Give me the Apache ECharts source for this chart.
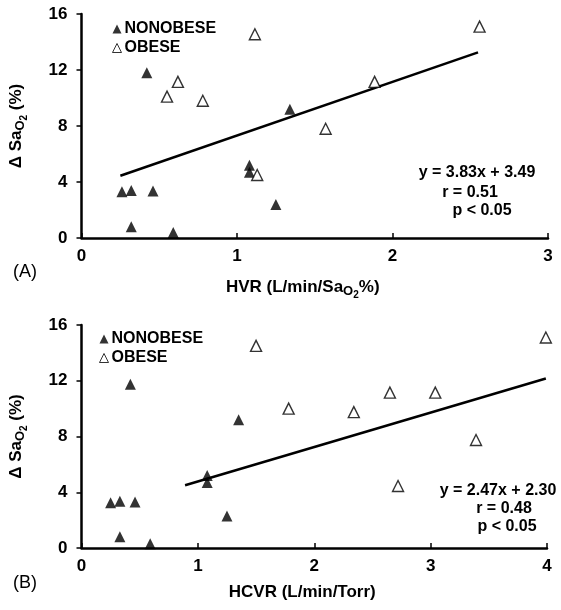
<!DOCTYPE html>
<html>
<head>
<meta charset="utf-8">
<script src="https://cdn.jsdelivr.net/npm/echarts@6/dist/echarts.min.js"></script>
<style>
html,body{margin:0;padding:0;background:#fff;}
#chart{width:561px;height:610px;}
</style>
</head>
<body>
<div id="chart"></div>
<script>
// Panel A: HVR (L/min/SaO2%) vs delta SaO2 (%)
const hvrNonobese = [0.26, 0.32, 0.32, 0.42, 0.46, 0.59, 1.08, 1.08, 1.25, 1.34];
const saNonobeseA = [3.3, 3.4, 0.8, 11.8, 3.35, 0.4, 5.2, 4.7, 2.4, 9.2];
const hvrObese = [0.55, 0.62, 0.78, 1.115, 1.13, 1.57, 1.885, 2.56];
const saObeseA = [10.1, 11.15, 9.8, 14.55, 4.5, 7.8, 11.15, 15.1];
const regLineAx = [0.25, 2.55];
const regLineAy = [4.45, 13.26];
const eqA = ['y = 3.83x + 3.49', 'r = 0.51', 'p < 0.05'];

// Panel B: HCVR (L/min/Torr) vs delta SaO2 (%)
const hcvrNonobese = [0.25, 0.33, 0.33, 0.42, 0.46, 0.59, 1.08, 1.08, 1.25, 1.35];
const saNonobeseB = [3.25, 3.35, 0.8, 11.75, 3.3, 0.3, 5.2, 4.7, 2.3, 9.2];
const hcvrObese = [1.50, 1.78, 2.34, 2.65, 2.72, 3.04, 3.39, 3.99];
const saObeseB = [14.5, 10.0, 9.75, 11.15, 4.45, 11.15, 7.75, 15.1];
const regLineBx = [0.89, 3.99];
const regLineBy = [4.5, 12.16];
const eqB = ['y = 2.47x + 2.30', 'r = 0.48', 'p < 0.05'];

const xTicksA = [0, 1, 2, 3];
const xTicksB = [0, 1, 2, 3, 4];
const yTicks = [0, 4, 8, 12, 16];
const legendNames = ['NONOBESE', 'OBESE'];

const FONT = '"Liberation Sans", Arial, Helvetica, sans-serif';
const zip = (xs, ys) => xs.map((x, i) => [x, ys[i]]);

const richSub = {
  b: { fontSize: 17, fontWeight: 'bold', fontFamily: FONT, color: '#000' },
  o: { fontSize: 13, fontWeight: 'bold', fontFamily: FONT, color: '#000', padding: [8, 0, 0, 0] },
  t: { fontSize: 10, fontWeight: 'bold', fontFamily: FONT, color: '#000', padding: [16, 0, 0, 0] }
};

function xAxis(idx, ticks, name, padRight) {
  return {
    gridIndex: idx, type: 'value', min: ticks[0], max: ticks[ticks.length - 1], interval: 1,
    axisLine: { lineStyle: { color: '#000', width: 2.5 } },
    axisTick: { inside: true, length: 5, lineStyle: { color: '#000', width: 1.5 } },
    axisLabel: { fontSize: 17, fontWeight: 'bold', fontFamily: FONT, color: '#000', margin: 10 },
    splitLine: { show: false },
    name: name, nameLocation: 'middle', nameGap: 36,
    nameTextStyle: { rich: richSub, padding: [0, padRight, 0, 0] }
  };
}
function yAxis(idx) {
  return {
    gridIndex: idx, type: 'value', min: yTicks[0], max: yTicks[yTicks.length - 1], interval: 4,
    axisLine: { lineStyle: { color: '#000', width: 2.5 } },
    axisTick: { inside: false, length: 5, lineStyle: { color: '#000', width: 1.5 } },
    axisLabel: { fontSize: 17, fontWeight: 'bold', fontFamily: FONT, color: '#000', margin: 14 },
    splitLine: { show: false },
    name: '{b|Δ Sa}{o|O}{t|2}{b| (%)}', nameLocation: 'middle', nameGap: 52,
    nameTextStyle: { rich: richSub }
  };
}

const filledStyle = { color: '#000', borderColor: '#000', borderWidth: 0 };
const openStyle = { color: '#fff', borderColor: '#000', borderWidth: 1.4 };

function scatter(name, xi, data, style) {
  return {
    name: name, type: 'scatter', xAxisIndex: xi, yAxisIndex: xi, data: data,
    symbol: 'triangle', symbolSize: 11, itemStyle: style, z: 3, silent: true
  };
}
function reg(xi, xs, ys) {
  return {
    type: 'line', xAxisIndex: xi, yAxisIndex: xi, data: zip(xs, ys),
    symbol: 'none', lineStyle: { color: '#000', width: 2.5 }, z: 2, silent: true
  };
}
function legend(left, top) {
  return {
    data: [
      { name: legendNames[0], icon: 'triangle', itemStyle: { color: '#000', borderWidth: 0 } },
      { name: legendNames[1], icon: 'triangle', itemStyle: { color: '#fff', borderColor: '#000', borderWidth: 1 } }
    ],
    orient: 'vertical', left: left, top: top, itemWidth: 9, itemHeight: 9, itemGap: 3, padding: 0,
    selectedMode: false,
    textStyle: { fontSize: 16, fontWeight: 'bold', fontFamily: FONT, color: '#000', padding: [0, 0, 0, -2] }
  };
}
function eqText(lines, cx, cys) {
  return lines.map((t, i) => ({
    type: 'text', x: cx[i], y: cys[i],
    style: { text: t, fill: '#000', font: 'bold 16px ' + FONT, textAlign: 'center', textVerticalAlign: 'middle' }
  }));
}

const option = {
  backgroundColor: '#fff',
  animation: false,
  grid: [
    { left: 80, top: 14, width: 468, height: 224 },
    { left: 79, top: 325, width: 468, height: 223 }
  ],
  xAxis: [
    xAxis(0, xTicksA, '{b|HVR (L/min/Sa}{o|O}{t|2}{b|%)}', 24),
    xAxis(1, xTicksB, '{b|HCVR (L/min/Torr)}', 24)
  ],
  yAxis: [yAxis(0), yAxis(1)],
  legend: [legend(112, 21), legend(99, 331)],
  series: [
    scatter('NONOBESE', 0, zip(hvrNonobese, saNonobeseA), filledStyle),
    scatter('OBESE', 0, zip(hvrObese, saObeseA), openStyle),
    reg(0, regLineAx, regLineAy),
    scatter('NONOBESE', 1, zip(hcvrNonobese, saNonobeseB), filledStyle),
    scatter('OBESE', 1, zip(hcvrObese, saObeseB), openStyle),
    reg(1, regLineBx, regLineBy)
  ],
  graphic: [
    { type: 'text', x: 25, y: 272, style: { text: '(A)', fill: '#000', font: '18px ' + FONT, textAlign: 'center', textVerticalAlign: 'middle' } },
    { type: 'text', x: 25, y: 583, style: { text: '(B)', fill: '#000', font: '18px ' + FONT, textAlign: 'center', textVerticalAlign: 'middle' } }
  ].concat(eqText(eqA, [477, 470, 482], [173, 193, 211]))
   .concat(eqText(eqB, [498, 504, 507], [491, 509, 527]))
};

const chart = echarts.init(document.getElementById('chart'), null, { renderer: 'canvas' });
chart.setOption(option);
</script>
</body>
</html>
